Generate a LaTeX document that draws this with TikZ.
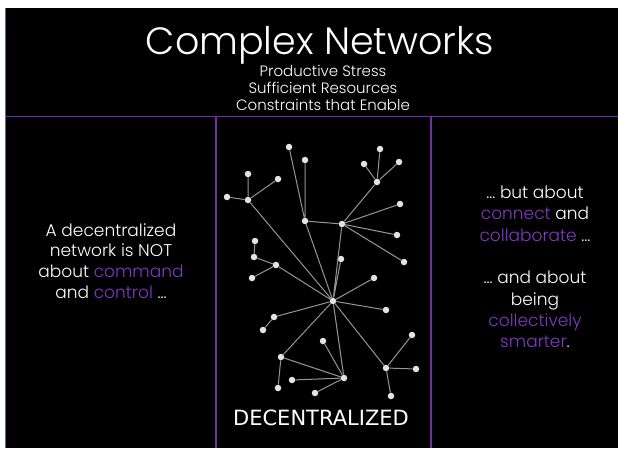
\documentclass[tikz,border=0pt]{standalone}
\usepackage{fontspec}
\setmainfont{Poppins Light}
\newfontfamily\labelfont{DejaVu Sans}
\usetikzlibrary{positioning}
\definecolor{slidepurple}{RGB}{112,48,160}
\definecolor{wordpurple}{RGB}{128,58,196}
\definecolor{edgegray}{RGB}{150,150,150}
\definecolor{dotgray}{RGB}{228,228,228}
\definecolor{edgeblue}{RGB}{90,110,150}

\begin{document}
\begin{tikzpicture}[
  x=1pt, y=-1pt,
  dot/.style={circle, inner sep=0pt, minimum size=6.5pt, fill=dotgray},
  link/.style={draw=edgegray, line width=1pt},
  divider/.style={draw=slidepurple, line width=1.4pt},
  slidetext/.style={text=white, align=center}
]
\useasboundingbox (0,0) rectangle (618,448);
\fill[white] (0,0) rectangle (618,448);
\fill[black] (6,8) rectangle (618,448);
\draw[edgeblue, line width=1pt] (5.5,8) -- (5.5,448);

% heading
\node[slidetext, font=\fontsize{38}{42}\selectfont, anchor=base] (title) at (320,54) {Complex Networks};
\node[slidetext, font=\fontsize{15}{16.8}\selectfont] (subtitle) at (323,88) {Productive Stress\\Sufficient Resources\\Constraints that Enable};

% dividers
\draw[divider] (6,116.5) -- (618,116.5);
\draw[divider] (216,116.5) -- (216,448);
\draw[divider] (431,116.5) -- (431,448);

% side texts
\node[slidetext, font=\fontsize{17}{20.7}\selectfont] (lefttext) at (111,261) {A decentralized\\network is NOT\\about \textcolor{wordpurple}{command}\\and \textcolor{wordpurple}{control} …};
\node[slidetext, font=\fontsize{17}{21.3}\selectfont] (righttext) at (535,267) {… but about\\\textcolor{wordpurple}{connect} and\\\textcolor{wordpurple}{collaborate} …\\[21.3pt]… and about\\being\\\textcolor{wordpurple}{collectively}\\\textcolor{wordpurple}{smarter}.};

% network
\node[dot] (hub) at (333,301) {};
\node[dot] (u1) at (289,147) {};
\node[dot] (u2) at (305,160) {};
\node[dot] (u3) at (380,149) {};
\node[dot] (u4) at (364,164) {};
\node[dot] (u5) at (399,162) {};
\node[dot] (u6) at (377,182) {};
\node[dot] (u7) at (248,174) {};
\node[dot] (u8) at (278,179) {};
\node[dot] (u9) at (227,197) {};
\node[dot] (u10) at (248,200) {};
\node[dot] (u11) at (400,204) {};
\node[dot] (u12) at (305,221) {};
\node[dot] (u13) at (342,224) {};
\node[dot] (u14) at (397,235) {};
\node[dot] (u15) at (404,262) {};
\node[dot] (u16) at (255,241) {};
\node[dot] (u17) at (254,257) {};
\node[dot] (u18) at (276,265) {};
\node[dot] (u19) at (252,278) {};
\node[dot] (u20) at (341,259) {};
\node[dot] (u21) at (374,278) {};
\node[dot] (l1) at (386,310) {};
\node[dot] (l2) at (274,317) {};
\node[dot] (l3) at (263,330) {};
\node[dot] (l4) at (323,341) {};
\node[dot] (l5) at (281,357) {};
\node[dot] (l6) at (412,335) {};
\node[dot] (l7) at (386,368) {};
\node[dot] (l8) at (416,369) {};
\node[dot] (l9) at (344,378) {};
\node[dot] (l10) at (292,380) {};
\node[dot] (l11) at (278,388) {};
\node[dot] (l12) at (315,393) {};
\node[dot] (l13) at (391,396) {};

\draw[link] (hub) -- (u10) (hub) -- (u12) (hub) -- (u13) (hub) -- (u20)
  (hub) -- (u18) (hub) -- (u21) (hub) -- (l1) (hub) -- (l2)
  (hub) -- (l5) (hub) -- (l9) (hub) -- (l7);
\draw[link] (u12) -- (u1) (u12) -- (u2) (u12) -- (u13);
\draw[link] (u13) -- (u6) (u13) -- (u11) (u13) -- (u14) (u13) -- (u15);
\draw[link] (u6) -- (u3) (u6) -- (u4) (u6) -- (u5);
\draw[link] (u10) -- (u7) (u10) -- (u8) (u10) -- (u9);
\draw[link] (u18) -- (u17) (u18) -- (u19) (u17) -- (u16);
\draw[link] (l2) -- (l3) (l5) -- (l9) (l5) -- (l11);
\draw[link] (l9) -- (l4) (l9) -- (l10) (l9) -- (l12);
\draw[link] (l7) -- (l6) (l7) -- (l8) (l7) -- (l13);

\node[slidetext, font=\labelfont\fontsize{21}{24}\selectfont, anchor=base] (caption) at (321,425) {DECENTRALIZED};
\end{tikzpicture}
\end{document}
